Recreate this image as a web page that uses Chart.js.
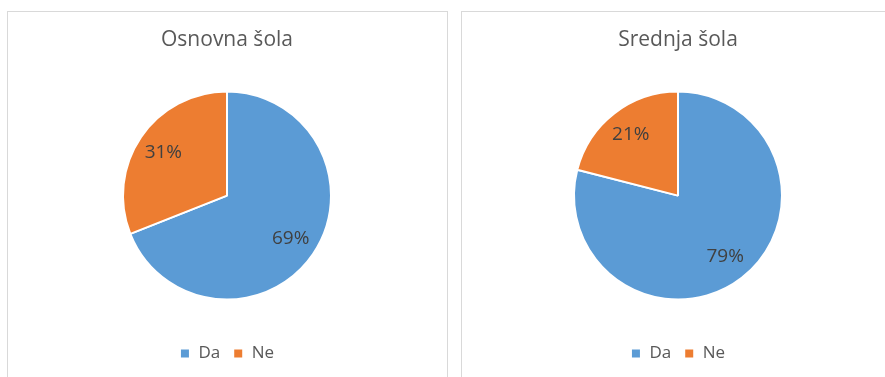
<!DOCTYPE html>
<html>
<head>
<meta charset="utf-8">
<script src="https://cdn.jsdelivr.net/npm/chart.js@4.4.1/dist/chart.umd.min.js"></script>
<style>
  html, body { margin: 0; padding: 0; background: #fff; }
  body { width: 885px; height: 377px; position: relative; overflow: hidden; }
  .panel { position: absolute; top: 11px; width: 441px; height: 420px; border: 1px solid #d9d9d9; box-sizing: border-box; }
  .chart { position: absolute; top: 11px; }
</style>
</head>
<body>
<div class="panel" style="left:7px"></div>
<div class="panel" style="left:461px"></div>
<div class="chart" style="left:7px;width:440px;height:366px"><canvas id="osnovna"></canvas></div>
<div class="chart" style="left:461px;width:434px;height:366px"><canvas id="srednja"></canvas></div>

<script>
// ── podatki ───────────────────────────────────────────────────────────────
const ODGOVORI = ["Da", "Ne"];
const OSNOVNA = [69, 31];
const SREDNJA = [79, 21];
const BARVE = ["#5b9bd5", "#ed7d31"];

const FONT = "'Open Sans', 'DejaVu Sans', sans-serif";

// odstotki znotraj rezin
const sliceLabels = {
  id: "sliceLabels",
  afterDatasetsDraw(chart) {
    const { ctx } = chart;
    const meta = chart.getDatasetMeta(0);
    const values = chart.data.datasets[0].data;
    ctx.save();
    ctx.textAlign = "center";
    ctx.textBaseline = "middle";
    ctx.fillStyle = "#404040";
    ctx.font = `19px ${FONT}`;
    meta.data.forEach((arc, i) => {
      const { x, y, startAngle, endAngle, outerRadius } =
        arc.getProps(["x", "y", "startAngle", "endAngle", "outerRadius"], true);
      const mid = (startAngle + endAngle) / 2;
      const r = outerRadius * 0.74;
      ctx.fillText(`${values[i]}%`, x + Math.cos(mid) * r, y + Math.sin(mid) * r);
    });
    ctx.restore();
  },
};

function makePie(id, naslov, vrednosti) {
  return new Chart(document.getElementById(id), {
    type: "pie",
    data: {
      labels: ODGOVORI,
      datasets: [
        {
          data: vrednosti,
          backgroundColor: BARVE,
          borderColor: "#ffffff",
          borderWidth: 2,
          hoverOffset: 0,
        },
      ],
    },
    options: {
      responsive: true,
      maintainAspectRatio: false,
      animation: false,
      events: [],
      radius: 104,
      layout: { padding: { top: 0, bottom: 5, left: 0, right: 0 } },
      plugins: {
        title: {
          display: true,
          text: naslov,
          color: "#595959",
          font: { size: 21, family: FONT, weight: "normal", lineHeight: 1.2 },
          padding: { top: 16, bottom: 7 },
        },
        legend: {
          position: "bottom",
          labels: {
            color: "#595959",
            font: { size: 17, family: FONT },
            boxWidth: 10,
            boxHeight: 10,
            padding: 13,
          },
        },
        tooltip: { enabled: false },
      },
    },
    plugins: [sliceLabels],
  });
}

makePie("osnovna", "Osnovna šola", OSNOVNA);
makePie("srednja", "Srednja šola", SREDNJA);
</script>
</body>
</html>
